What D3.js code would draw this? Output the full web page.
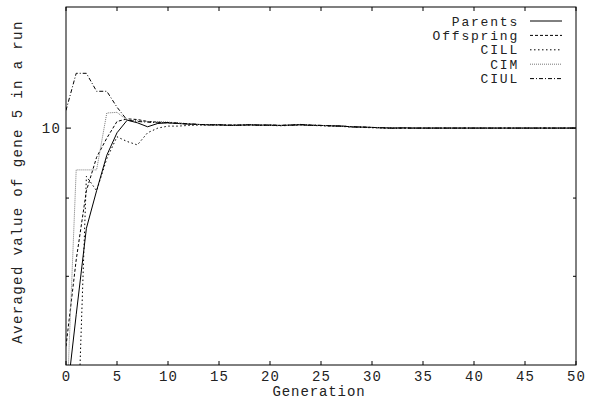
<!DOCTYPE html>
<html>
<head>
<meta charset="utf-8">
<script src="https://cdn.jsdelivr.net/npm/d3@7"></script>
<style>
  body { margin: 0; background: #fff; }
  text { font-family: "Liberation Mono", "DejaVu Sans Mono", monospace; fill: #222; }
</style>
</head>
<body>
<script>

var generations = d3.range(0, 51);

var parents = [6.6, 7.55, 8.6, 9.1, 9.6, 9.93, 10.12, 10.08, 10.02, 10.07, 10.08, 10.07, 10.06, 10.055, 10.05, 10.05, 10.04,
  10.045, 10.05, 10.045, 10.045, 10.04, 10.045, 10.05, 10.04, 10.04, 10.035, 10.03, 10.02, 10.015, 10.01, 10.005, 10.0,
  10.005, 10.0, 10.0, 10.0, 10.0, 10.0, 10.0, 10.0, 10.0, 10.0, 10.0, 10.0, 10.0, 10.0, 10.0, 10.0, 10.0, 10.0];

var offspring = [7.2, 8.2, 9.1, 9.57, 9.85, 10.1, 10.14, 10.13, 10.1, 10.09, 10.08, 10.07, 10.06, 10.055, 10.05, 10.05, 10.045,
  10.045, 10.05, 10.045, 10.045, 10.04, 10.045, 10.055, 10.045, 10.04, 10.035, 10.03, 10.02, 10.015, 10.01, 10.005, 10.0,
  10.0, 10.0, 10.0, 10.0, 10.0, 10.0, 10.0, 10.0, 10.0, 10.0, 10.0, 10.0, 10.0, 10.0, 10.0, 10.0, 10.0, 10.0];

var cill = [5.0, 5.9, 9.3, 9.1, 9.55, 9.87, 9.8, 9.75, 9.93, 10.0, 10.03, 10.03, 10.04, 10.045, 10.045, 10.045, 10.04,
  10.04, 10.045, 10.04, 10.04, 10.035, 10.04, 10.045, 10.04, 10.035, 10.03, 10.025, 10.015, 10.01, 10.005, 10.0, 9.995,
  10.0, 10.0, 10.0, 10.0, 10.0, 10.0, 10.0, 10.0, 10.0, 10.0, 10.0, 10.0, 10.0, 10.0, 10.0, 10.0, 10.0, 10.0];

var cim = [6.4, 9.39, 9.39, 9.39, 10.23, 10.24, 10.12, 10.11, 10.1, 10.1, 10.09, 10.08, 10.065, 10.055, 10.05, 10.05, 10.045,
  10.045, 10.05, 10.045, 10.045, 10.04, 10.045, 10.05, 10.045, 10.04, 10.035, 10.03, 10.02, 10.015, 10.01, 10.005, 10.0,
  10.0, 10.0, 10.0, 10.0, 10.0, 10.0, 10.0, 10.0, 10.0, 10.0, 10.0, 10.0, 10.0, 10.0, 10.0, 10.0, 10.0, 10.0];

var ciul = [10.27, 10.86, 10.86, 10.57, 10.57, 10.32, 10.12, 10.1, 10.09, 10.08, 10.085, 10.075, 10.065, 10.055, 10.05, 10.05,
  10.045, 10.045, 10.05, 10.045, 10.045, 10.04, 10.045, 10.055, 10.045, 10.04, 10.035, 10.03, 10.02, 10.015, 10.01, 10.005,
  10.0, 10.0, 10.0, 10.0, 10.0, 10.0, 10.0, 10.0, 10.0, 10.0, 10.0, 10.0, 10.0, 10.0, 10.0, 10.0, 10.0, 10.0, 10.0];

var xTicks = d3.range(0, 51, 5);
var yMajorTicks = [10];
var yMinorTicks = [8, 9];

var seriesNames = ["Parents", "Offspring", "CILL", "CIM", "CIUL"];

(function() {

  var series = [
    {name: seriesNames[0], values: parents,   dash: null,      color: "#000"},
    {name: seriesNames[1], values: offspring, dash: "3,2",     color: "#000"},
    {name: seriesNames[2], values: cill,      dash: "1.5,2.5", color: "#000"},
    {name: seriesNames[3], values: cim,       dash: "1,1",     color: "#777"},
    {name: seriesNames[4], values: ciul,      dash: "4,2,1,2", color: "#000"}
  ];

  var width = 590, height = 404,
      plotLeft = 66, plotRight = 576, plotTop = 7, plotBottom = 365;

  var x = d3.scaleLinear().domain([0, 50]).range([plotLeft, plotRight]);
  var y = d3.scaleLog().domain([7, 12]).range([plotBottom, plotTop]);

  var svg = d3.select("body").append("svg")
      .attr("width", width)
      .attr("height", height);

  svg.append("clipPath").attr("id", "plotClip")
    .append("rect")
      .attr("x", plotLeft).attr("y", plotTop)
      .attr("width", plotRight - plotLeft).attr("height", plotBottom - plotTop);

  // ticks, gnuplot style: inside, on all four sides
  var ticks = svg.append("g").attr("stroke", "#000").attr("stroke-width", 1);

  xTicks.forEach(function(t) {
    ticks.append("line").attr("x1", x(t)).attr("x2", x(t)).attr("y1", plotBottom).attr("y2", plotBottom - 4);
    ticks.append("line").attr("x1", x(t)).attr("x2", x(t)).attr("y1", plotTop).attr("y2", plotTop + 4);
  });
  yMajorTicks.forEach(function(t) {
    ticks.append("line").attr("x1", plotLeft).attr("x2", plotLeft + 5).attr("y1", y(t)).attr("y2", y(t));
    ticks.append("line").attr("x1", plotRight).attr("x2", plotRight - 5).attr("y1", y(t)).attr("y2", y(t));
  });
  yMinorTicks.forEach(function(t) {
    ticks.append("line").attr("x1", plotLeft).attr("x2", plotLeft + 3).attr("y1", y(t)).attr("y2", y(t));
    ticks.append("line").attr("x1", plotRight).attr("x2", plotRight - 3).attr("y1", y(t)).attr("y2", y(t));
  });

  svg.selectAll(".xlabel")
    .data(xTicks)
    .enter().append("text")
      .attr("class", "xlabel")
      .attr("x", function(d) { return x(d) + 0.6; })
      .attr("y", 376)
      .attr("dy", "0.35em")
      .attr("text-anchor", "middle")
      .attr("font-size", "14px")
      .attr("letter-spacing", "1.2px")
      .text(function(d) { return d; });

  svg.selectAll(".ylabel")
    .data(yMajorTicks)
    .enter().append("text")
      .attr("class", "ylabel")
      .attr("x", 61)
      .attr("y", function(d) { return y(d); })
      .attr("dy", "0.35em")
      .attr("text-anchor", "end")
      .attr("font-size", "14px")
      .attr("letter-spacing", "1.2px")
      .text(function(d) { return d; });

  svg.append("text")
      .attr("x", 319)
      .attr("y", 391)
      .attr("dy", "0.35em")
      .attr("text-anchor", "middle")
      .attr("font-size", "14px")
      .attr("letter-spacing", "0.9px")
      .text("Generation");

  svg.append("text")
      .attr("transform", "translate(17,182) rotate(-90)")
      .attr("dy", "0.35em")
      .attr("text-anchor", "middle")
      .attr("font-size", "14px")
      .attr("letter-spacing", "1.4px")
      .text("Averaged value of gene 5 in a run");

  var line = d3.line()
      .x(function(d, i) { return x(generations[i]); })
      .y(function(d) { return y(d); });

  svg.append("g")
      .attr("clip-path", "url(#plotClip)")
    .selectAll("path")
    .data(series)
    .enter().append("path")
      .attr("d", function(s) { return line(s.values); })
      .attr("fill", "none")
      .attr("stroke", function(s) { return s.color; })
      .attr("stroke-width", 1)
      .attr("stroke-dasharray", function(s) { return s.dash; });

  // legend
  var legend = svg.append("g");
  series.forEach(function(s, i) {
    var ly = 21 + i * 14.4;
    legend.append("text")
        .attr("x", 519)
        .attr("y", ly)
        .attr("dy", "0.35em")
        .attr("text-anchor", "end")
        .attr("font-size", "13px")
        .attr("letter-spacing", "1.8px")
        .text(s.name);
    legend.append("line")
        .attr("x1", 530).attr("x2", 562)
        .attr("y1", ly).attr("y2", ly)
        .attr("stroke", s.color)
        .attr("stroke-width", 1)
        .attr("stroke-dasharray", s.dash);
  });

  svg.append("rect")
      .attr("x", plotLeft).attr("y", plotTop)
      .attr("width", plotRight - plotLeft).attr("height", plotBottom - plotTop)
      .attr("fill", "none")
      .attr("stroke", "#000")
      .attr("stroke-width", 1);

})();

</script>
</body>
</html>
